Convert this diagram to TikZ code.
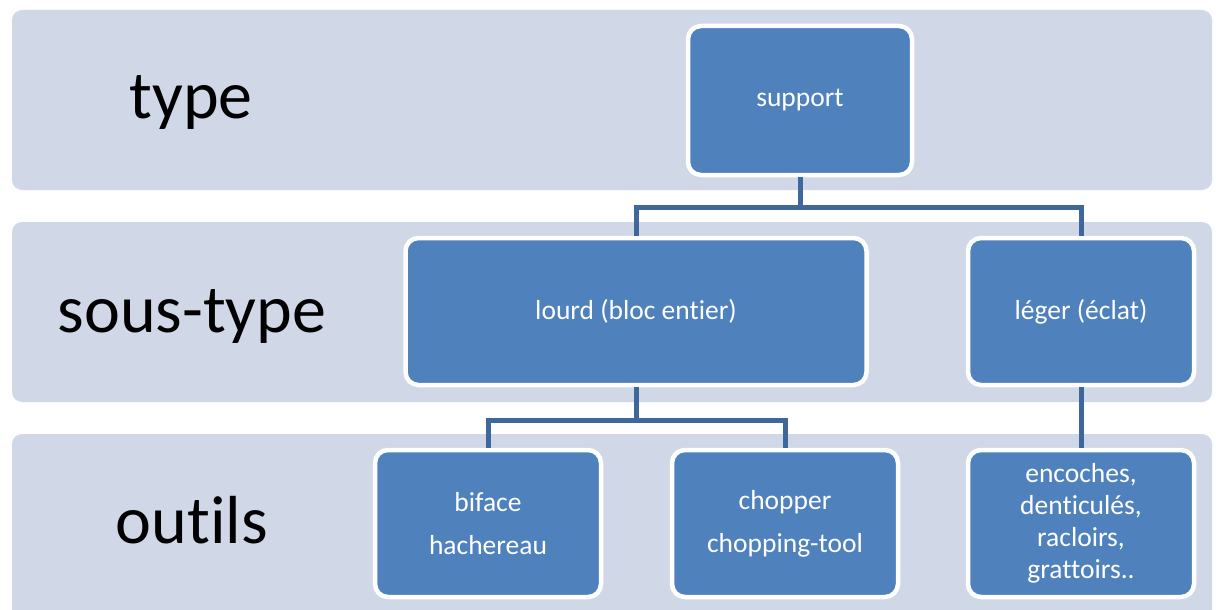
\documentclass[tikz,border=0pt]{standalone}
\usepackage{fontspec}
\setmainfont{Carlito}[Ligatures=NoCommon]
\usetikzlibrary{calc}
\definecolor{bandc}{RGB}{208,216,232}
\definecolor{boxc}{RGB}{79,129,189}
\definecolor{connc}{RGB}{62,104,156}
\tikzset{
  band/.style={fill=bandc, draw=none, rounded corners=10pt},
  box/.style={rectangle, rounded corners=13pt, fill=boxc, draw=white, line width=4.5pt,
    text=white, inner sep=0pt, align=center, font=\fontsize{27.5}{43}\selectfont},
  levellabel/.style={anchor=base, inner sep=0pt, font=\fontsize{68}{80}\selectfont},
  conn/.style={draw=connc, line width=5pt}
}
\begin{document}
\begin{tikzpicture}[x=1pt,y=-1pt]
\useasboundingbox (0,0) rectangle (1216,610);
% bands
\path[band] (12,10) rectangle (1212,190);
\path[band] (12,222) rectangle (1212,402);
\path[band] (12,434) rectangle (1212,630);
% level labels
\node[levellabel] (ltype) at (191,118) {type};
\node[levellabel] (lsous) at (192,332) {sous-type};
\node[levellabel] (loutils) at (192,543) {outils};
% boxes
\node[box, minimum width=224pt, minimum height=149pt] (support) at (800,100.5) {support};
\node[box, minimum width=461pt, minimum height=147pt] (lourd) at (636,311.5) {lourd (bloc entier)};
\node[box, minimum width=226pt, minimum height=147pt] (leger) at (1081,311.5) {léger (éclat)};
\node[box, minimum width=226pt, minimum height=147pt] (biface) at (488,523.5) {biface\\hachereau};
\node[box, minimum width=226pt, minimum height=147pt] (chopper) at (785,523.5) {chopper\\chopping-tool};
\node[box, minimum width=226pt, minimum height=147pt, font=\fontsize{27.5}{32}\selectfont] (outl) at (1081,523.5) {encoches,\\denticulés,\\racloirs,\\grattoirs..};
% connectors
\coordinate (bus1) at ($(support.south)+(0,30)$);
\coordinate (bus2) at ($(lourd.south)+(0,33)$);
\draw[conn] (support.south) -- (bus1);
\draw[conn] (lourd.north) |- (bus1) -| (leger.north);
\draw[conn] (lourd.south) -- (bus2);
\draw[conn] (biface.north) |- (bus2) -| (chopper.north);
\draw[conn] (leger.south) -- (outl.north);
\end{tikzpicture}
\end{document}
